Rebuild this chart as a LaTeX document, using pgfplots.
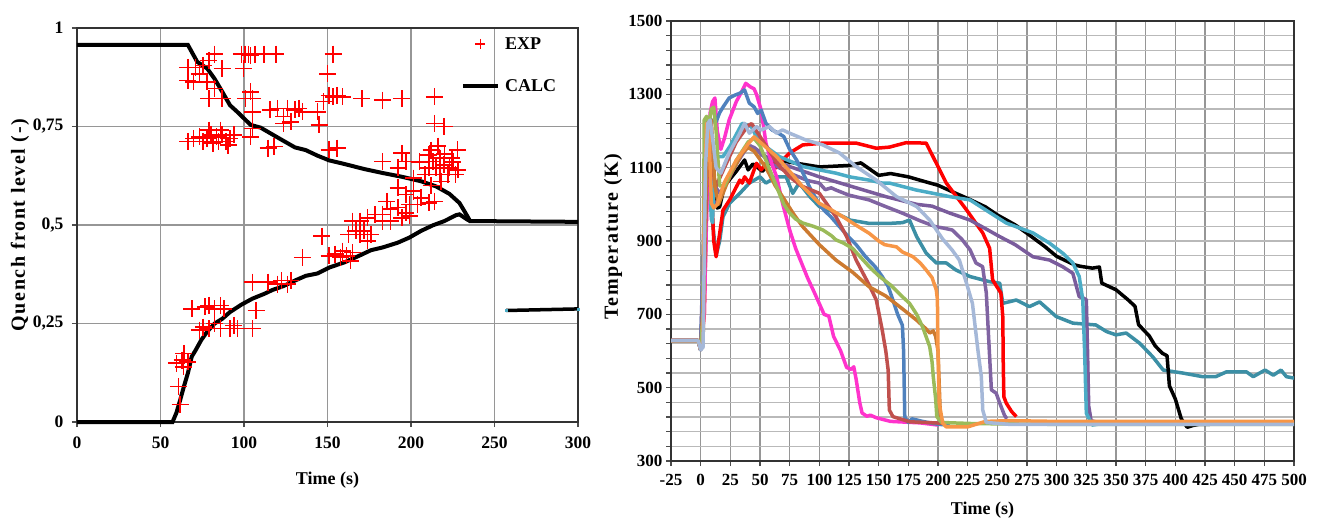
\documentclass[border=0pt]{standalone}
\usepackage{pgfplots}
\pgfplotsset{compat=1.18}
\usepackage{fontspec}
\setmainfont{Liberation Serif}
\newfontfamily\ylabfont{Liberation Serif}[LetterSpace=8]
\definecolor{cMag}{HTML}{FF33CC}
\definecolor{cBlue}{HTML}{4F81BD}
\definecolor{cBrRed}{HTML}{C0504D}
\definecolor{cOrBr}{HTML}{CC7A30}
\definecolor{cGreen}{HTML}{9BBB59}
\definecolor{cOrange}{HTML}{F79646}
\definecolor{cPur}{HTML}{8064A2}
\definecolor{cPurB}{HTML}{7A5C9C}
\definecolor{cSteel}{HTML}{A5B8D8}
\definecolor{cTeal}{HTML}{3C8FA5}
\definecolor{cCyan}{HTML}{4BACC6}
\definecolor{gridA}{RGB}{150,150,150}
\definecolor{gridB}{RGB}{185,185,185}
\pgfplotsset{
  explegend/.style={legend image code/.code={\draw[##1, mark size=5pt, mark options={line width=1.2pt}] plot coordinates {(17.5pt,0pt)};\path (0pt,0pt) (40pt,0pt);}},
  calclegend/.style={legend image code/.code={\draw[##1] (0pt,0pt) -- (35pt,0pt);}},
}
\begin{document}
\begin{tikzpicture}
\useasboundingbox (0,0) rectangle (1319pt,522pt);
% ---------------- left chart ----------------
\begin{axis}[
  at={(77pt,100pt)}, anchor=south west, scale only axis,
  width=501pt, height=394pt,
  xmin=0, xmax=300, ymin=0, ymax=1,
  xtick={0,50,...,300},
  xticklabels={0,50,100,150,200,250,300},
  ytick={0,0.25,0.5,0.75,1},
  yticklabels={0,{0,25},{0,5},{0,75},1},
  tick label style={font=\fontsize{17.5}{19}\selectfont\bfseries},
  xticklabel style={yshift=-6pt},
  yticklabel style={xshift=-5pt},
  tick align=outside, tick pos=left, major tick length=5pt,
  tick style={black!70, line width=1.2pt},
  grid=major, major grid style={gridA, line width=1.5pt},
  axis line style={black!80, line width=1.5pt},
  xlabel={\fontsize{18}{20}\selectfont\bfseries Time (s)},
  ylabel={\ylabfont\fontsize{20}{22}\selectfont\bfseries Quench front level (-)},
  xlabel style={at={(axis description cs:0.5,-0.147)}, anchor=center},
  ylabel style={at={(axis description cs:-0.114,0.5)}, anchor=center, rotate=0},
  legend style={at={(rel axis cs:0.766,0.982)}, anchor=north west, draw=none, fill=none,
    font=\fontsize{18}{20}\selectfont\bfseries, row sep=25pt, inner sep=0pt},
  legend cell align=left,
  clip=false,
]
\addplot[only marks, mark=+, mark size=8.5pt, color=red, mark options={line width=1.6pt}, explegend]
coordinates {
(98.5,0.934)(100.7,0.934)(102.6,0.934)(104,0.93)(106.5,0.934)(112,0.934)(119,0.934)(99.6,0.897)(82.4,0.934)
(66.4,0.90)(71,0.90)(75.6,0.905)(79,0.918)(87,0.897)(66.4,0.867)(69.8,0.863)(73.3,0.884)(77.9,0.863)(79,0.821)(87,0.821)(82.4,0.846)(100.8,0.821)(105,0.821)(104,0.838)(105,0.787)
(66.4,0.712)(69.8,0.72)(73.3,0.724)(75.6,0.712)(77.9,0.72)(80.2,0.729)(81.3,0.708)(83.6,0.724)(84.7,0.712)(87,0.729)(89.3,0.712)(91.6,0.72)(93.9,0.729)(79,0.741)(85.9,0.741)(90.5,0.703)(104,0.724)(105,0.745)
(114.5,0.695)(118,0.699)(115.6,0.792)(120,0.796)(123.7,0.775)(126,0.796)(128,0.762)(130.5,0.792)(132.8,0.796)(135,0.787)(123.7,0.758)(144,0.787)(145,0.754)(147.7,0.813)
(153.4,0.934)(150,0.884)(151,0.829)(153.4,0.825)(155.7,0.829)(159,0.825)(155.7,0.695)(151,0.691)(170.6,0.821)(183,0.817)(194.6,0.821)(214,0.825)(214,0.758)(219.8,0.75)
(183,0.661)(194.6,0.682)(197,0.661)(210.7,0.678)(213,0.661)(215,0.645)(217.5,0.67)(219.8,0.653)(222,0.628)(224.4,0.67)(227.8,0.691)(226.7,0.628)(210.7,0.645)(217.5,0.628)(208.4,0.628)(192.3,0.645)(201.5,0.619)
(205,0.66)(212,0.69)(216,0.70)(220,0.68)(223,0.645)(218,0.61)(212,0.60)(225,0.66)(228,0.64)
(192.3,0.594)(197,0.577)(201.5,0.586)(206,0.569)(210.7,0.556)(214,0.56)(203.8,0.552)(192.3,0.544)(197,0.531)(187.8,0.54)(183,0.527)(178.6,0.527)(174,0.518)(169.5,0.51)(165,0.51)(171.7,0.485)(176,0.476)(169.5,0.476)(162.6,0.476)(183,0.51)(187.8,0.51)(194.6,0.518)(199,0.523)(185.5,0.56)(199,0.552)(174,0.46)(167,0.485)
(146.6,0.472)(151,0.422)(154.5,0.426)(157.8,0.418)(161.4,0.422)(163.7,0.409)(159,0.434)(165,0.43)(135,0.418)
(105,0.355)(114.5,0.355)(120,0.35)(122.4,0.359)(126,0.35)(128,0.359)
(68.7,0.287)(76.7,0.292)(79,0.296)(82.4,0.287)(85.9,0.296)(88,0.287)(75.6,0.241)(79,0.237)(82.4,0.25)(85.9,0.237)(91.6,0.237)(96,0.237)(105,0.237)(107.3,0.283)(73.3,0.233)(93.9,0.245)
(59.5,0.149)(63,0.157)(66.4,0.153)(64,0.174)(60.7,0.09)(61.8,0.044)(63.7,0.14)
};
\addlegendentry{EXP}
\addplot[black, line width=4pt, no marks, calclegend]
coordinates {
(0,0.957)(66.4,0.957)(72,0.914)(78,0.897)(82.4,0.871)(87,0.838)(91.6,0.804)(96,0.787)(104,0.754)(110,0.747)(121,0.72)(130.5,0.697)(137,0.69)(144,0.676)(151,0.664)(160,0.655)(172,0.642)(183,0.632)(195,0.622)(206,0.611)(215,0.598)(223,0.579)(229,0.556)(232,0.535)(235.4,0.51)(300,0.508)
};
\addlegendentry{CALC}
\addplot[black, line width=4pt, no marks, forget plot]
coordinates {
(0,0)(57.2,0)(59.5,0.023)(61.8,0.056)(64,0.09)(66.4,0.124)(68.7,0.166)(71,0.182)(74.4,0.208)(77.9,0.229)(82.4,0.25)(87,0.262)(91.6,0.279)(98.5,0.298)(105,0.313)(112,0.325)(117,0.335)(123.7,0.345)(130.5,0.359)(137,0.371)(144,0.377)(151,0.392)(160,0.405)(169,0.422)(176,0.436)(183,0.443)(192,0.455)(199,0.468)(206,0.485)(213,0.499)(220,0.51)(227,0.525)(229,0.527)(233.6,0.514)(235.4,0.51)
};
\addplot[black, line width=3.5pt, no marks, forget plot]
coordinates {(257,0.283)(300,0.287)};
\addplot[only marks, forget plot, mark=square*, mark size=1.2pt, color=cCyan]
coordinates {(257,0.283)(300,0.287)};
\end{axis}
% ---------------- right chart ----------------
\begin{axis}[
  at={(671pt,61pt)}, anchor=south west, scale only axis,
  width=623pt, height=440pt,
  xmin=-25, xmax=500, ymin=300, ymax=1500,
  xtick={-25,0,...,500},
  xticklabels={-25,0,25,50,75,100,125,150,175,200,225,250,275,300,325,350,375,400,425,450,475,500},
  ytick={300,500,...,1500},
  yticklabels={300,500,700,900,1100,1300,1500},
  minor ytick={340,380,...,1480},
  tick label style={font=\fontsize{17}{19}\selectfont\bfseries},
  xticklabel style={yshift=-5pt},
  tick align=outside, tick pos=left, major tick length=5pt, minor tick length=5pt,
  tick style={black!70, line width=1.2pt},
  grid=both, major x grid style={gridA, line width=1.5pt},
  major y grid style={gridB, line width=1.5pt},
  minor y grid style={gridB, line width=1.5pt},
  axis line style={black!80, line width=1.5pt},
  xlabel={\fontsize{18}{20}\selectfont\bfseries Time (s)},
  ylabel={\ylabfont\fontsize{20}{22}\selectfont\bfseries Temperature (K)},
  xlabel style={at={(axis description cs:0.5,-0.111)}, anchor=center},
  ylabel style={at={(axis description cs:-0.093,0.51)}, anchor=center, rotate=0},
  every axis plot/.append style={line width=3.5pt, no marks, line join=round},
]
\addplot[cTeal] coordinates {(-25,628)(-2,628)(0,603)(3,800)(5,1150)(8,1050)(10,950)(13,860)(16,900)(18.8,966)(24.4,1003)(33,1030)(41,1058)(50,1075)(55,1058)(64,1075)(72,1075)(77.6,1030)(83,1058)(92,1021)(100,994)(114,976)(126,957)(142,948)(159,948)(170,950)(176,957)(182,912)(190,867)(198.6,840)(207,840)(215,821)(227,803)(243.5,789)(252,785)(254.6,730)(266,739)(277,721)(285.6,734)(299.6,694)(313.6,676)(333,671)(342,653)(350,644)(358.6,649)(370,621)(381,584)(389.8,548)(406,540)(423,530)(434,530)(443,543)(460,543)(465.6,530)(475.6,548)(482.6,534)(489,548)(493.6,530)(500,526)};
\addplot[black] coordinates {(-25,628)(-2,628)(0,603)(3,800)(5,1100)(8,1130)(11,1050)(14,990)(16,993)(20,1050)(30,1090)(37,1121)(40,1094)(44,1110)(47,1103)(52,1090)(58,1110)(65,1120)(75,1115)(100,1102)(125,1106)(135,1113)(150,1079)(160,1084)(175,1075)(190,1061)(200,1052)(215,1030)(225,1016)(240,993)(250,971)(265,944)(275,921)(290,885)(300,858)(315,835)(320,831)(330,826)(336,829)(338,785)(350,767)(360,740)(366,722)(369,672)(378,641)(383,614)(389,594)(393,587)(395,505)(400,469)(405,415)(410,392)(415,397)(420,400)(500,402)};
\addplot[red] coordinates {(-25,628)(-2,628)(0,603)(3,700)(5,1000)(7,1150)(9,1050)(11,900)(13,857)(16,920)(18.8,984)(24.4,1012)(33,1066)(35,1058)(37,1075)(41,1058)(44,1085)(47,1112)(51,1094)(55,1112)(59.6,1130)(64,1100)(69,1121)(75,1140)(86,1162)(103,1167)(131,1167)(148,1153)(159,1156)(173,1168)(190,1167)(198.6,1112)(207,1058)(224,985)(237.7,922)(243.5,880)(246,794)(253,758)(254.6,693)(255,560)(255.5,475)(257.5,458)(262,435)(266,421)};
\addplot[cPurB] coordinates {(-25,628)(-2,628)(0,605)(3,900)(6,1100)(10,1000)(15,1010)(25,1080)(35,1140)(40,1160)(45,1155)(55,1130)(65,1115)(75,1103)(100,1075)(128,1048)(156,1021)(182,1000)(195,995)(210,976)(227,957)(252,912)(265,890)(280,857)(294,848)(305,830)(313.6,812)(319,748)(322,745)(325,740)(326,600)(327,450)(329,410)(335,405)};
\addplot[cCyan] coordinates {(-25,628)(-2,628)(0,603)(3,900)(5,1230)(7,1100)(9,960)(10,950)(11.8,1130)(18.8,1130)(25,1160)(35,1221)(42.7,1212)(47,1184)(55,1157)(66.5,1130)(86,1103)(114,1085)(125.5,1075)(142,1066)(153,1058)(159,1058)(181.7,1039)(210,1021)(227,1012)(237.6,990)(257.5,949)(280,922)(294,894)(305,867)(313.6,840)(319,803)(322,739)(323.5,603)(325,430)(330,398)(342,404)(500,405)};
\addplot[cPur] coordinates {(-25,628)(-2,628)(0,605)(3,1000)(5,1230)(8,1200)(10,1100)(12,1050)(16,1030)(22,1060)(30,1110)(38,1150)(42,1160)(50,1140)(60,1110)(75,1085)(90,1065)(100,1058)(105,1040)(110,1045)(114,1039)(125,1025)(142,1012)(155,995)(170,976)(185,955)(198,939)(205,935)(212,930)(220,905)(227,876)(232,840)(237.6,830)(240.7,758)(243.5,584)(245,494)(249,485)(252,458)(256,425)(258,415)};
\addplot[cMag] coordinates {(-25,628)(-2,628)(0,605)(3,700)(6,1100)(8,1250)(10,1280)(12,1290)(14,1200)(17,1150)(20,1180)(24,1230)(30,1280)(35,1310)(38,1330)(42,1320)(45,1315)(47,1300)(51,1257)(55,1167)(60,1110)(64,1075)(69,1003)(75,930)(80,880)(85,840)(90,800)(96,758)(104,700)(108,695)(112,640)(118,600)(123,555)(127,550)(129,557)(131,523)(134,460)(136,431)(140,422)(143,425)(148,418)(160,408)(185,404)(200,398)};
\addplot[cBlue] coordinates {(-25,628)(-2,628)(0,605)(3,900)(6,1200)(9,1230)(13,1225)(16,1250)(19,1266)(24,1290)(29,1298)(33,1303)(37,1312)(41,1276)(45,1266)(48,1248)(51,1257)(55,1221)(60,1203)(65,1195)(70,1185)(75,1150)(81,1120)(87,1080)(93,1039)(100,1000)(104,984)(110,965)(117,939)(125,910)(131,890)(139,857)(147,830)(153,803)(158,776)(162,739)(166,700)(170,670)(171,600)(172,420)(175,405)(178,415)(182,412)(187,408)(200,400)(210,398)};
\addplot[cBrRed] coordinates {(-25,628)(-2,628)(0,605)(3,800)(6,1150)(9,1100)(13,1050)(20,1100)(30,1170)(40,1215)(43,1220)(47,1200)(55,1160)(65,1110)(75,1075)(85,1050)(100,1030)(114,966)(123,912)(131,848)(142,780)(148,739)(153,657)(156,600)(158,548)(159,439)(162,421)(176,407)(204,403)};
\addplot[cOrBr] coordinates {(-25,628)(-2,628)(0,605)(2,620)(4,1000)(6,1200)(9,1230)(12,1050)(15,1000)(25,1080)(35,1140)(40,1155)(45,1145)(55,1100)(63,1050)(69,1021)(78,975)(86,939)(100,890)(114,848)(128,815)(142,775)(156,750)(170,715)(182,684)(190,660)(193,649)(196,655)(198,640)(200,600)(202,420)(205,400)};
\addplot[cGreen] coordinates {(-25,628)(-2,628)(0,605)(2,700)(3,1230)(5,1240)(7,1220)(9,1260)(11,1265)(13,1200)(16,1050)(20,1050)(30,1120)(40,1170)(45,1180)(50,1160)(55,1120)(60,1080)(65,1040)(70,1000)(75,976)(80,960)(86,949)(95,940)(103,930)(110,915)(114,903)(120,895)(128,880)(135,855)(142,830)(150,805)(160,780)(170,748)(176,730)(182,700)(187,666)(191,630)(193,612)(195,570)(196,530)(198,470)(199,421)(203,405)(230,402)(300,400)(500,400)};
\addplot[cOrange] coordinates {(-25,628)(-2,628)(0,605)(2,615)(3,1000)(5,1221)(7,1200)(9,1003)(11,990)(14,1000)(20,1060)(30,1120)(40,1165)(45,1184)(50,1170)(57,1150)(64,1130)(75,1090)(86,1048)(100,1003)(110,985)(120,966)(130,945)(142,921)(150,900)(155,890)(165,884)(170,870)(179,857)(185,840)(190,821)(195,800)(198.6,766)(199.5,740)(200,600)(201,458)(204,403)(207,393)(225,393)(232,400)(240,408)(260,410)(300,408)(500,408)};
\addplot[cSteel] coordinates {(-25,628)(-2,628)(0,603)(2,610)(4,1100)(6,1220)(8,1230)(10,1180)(13,1100)(17,1085)(24,1140)(33,1194)(37,1221)(41,1194)(47,1212)(51,1203)(58,1212)(64,1194)(69,1203)(75,1194)(89,1175)(103,1162)(117,1140)(131,1103)(148,1066)(165,1021)(182,994)(193,957)(204,905)(212,875)(218,848)(224,785)(229,730)(233.6,603)(236.5,530)(237.7,439)(240.7,405)(260,400)(500,400)};
\end{axis}
\end{tikzpicture}
\end{document}
